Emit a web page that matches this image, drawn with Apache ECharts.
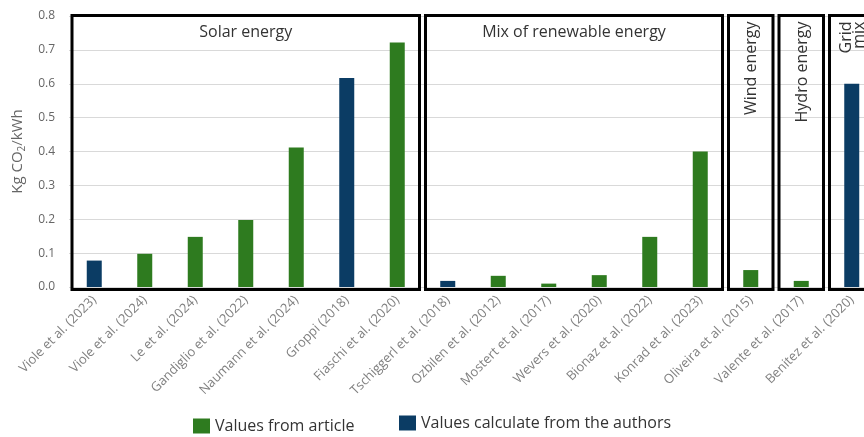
<!DOCTYPE html>
<html>
<head>
<meta charset="utf-8">
<script src="https://cdn.jsdelivr.net/npm/echarts@6/dist/echarts.min.js"></script>
<style>html,body{margin:0;padding:0;background:#fff}#c{width:864px;height:437px}</style>
</head>
<body>
<div id="c"></div>
<script>
var categories = ['Viole et al. (2023)','Viole et al. (2024)','Le et al. (2024)','Gandiglio et al. (2022)','Naumann et al. (2024)','Groppi (2018)','Fiaschi et al. (2020)','Tschiggerl et al. (2018)','Ozbilen et al. (2012)','Mostert et al. (2017)','Wevers et al. (2020)','Bionaz et al. (2022)','Konrad et al. (2023)','Oliveira et al. (2015)','Valente et al. (2017)','Benitez et al. (2020)'];
var articleValues = [null, 0.098, 0.148, 0.198, 0.412, null, 0.722, null, 0.033, 0.010, 0.035, 0.148, 0.400, 0.050, 0.018, null];
var authorValues  = [0.078, null, null, null, null, 0.617, null, 0.018, null, null, null, null, null, null, null, 0.600];
var yTicks = {min: 0, max: 0.8, interval: 0.1};
// groups: [startIndex, endIndex, label, vertical(1) or horizontal(0)]
var groupStart = [0, 7, 13, 14, 15];
var groupEnd   = [6, 12, 13, 14, 15];
var groupLabel = ['Solar energy', 'Mix of renewable energy', 'Wind energy', 'Hydro energy', 'Grid\nmix'];
var groupVertical = [0, 0, 1, 1, 1];
var seriesNames = ['Values from article', 'Values calculate from the authors'];

var FONT = '"Open Sans", Lato, sans-serif';
var groupData = groupStart.map(function (s, i) { return [s, groupEnd[i], i]; });

var chart = echarts.init(document.getElementById('c'), null, {renderer: 'canvas'});
chart.setOption({
  animation: false,
  grid: {left: 69, width: 808, top: 16, bottom: 150, containLabel: false, outerBoundsMode: 'none'},
  xAxis: {
    type: 'category',
    data: categories,
    axisLine: {show: false},
    axisTick: {show: false},
    axisLabel: {rotate: 45, interval: 0, color: '#808080', fontSize: 13, fontFamily: FONT, margin: 11}
  },
  yAxis: {
    type: 'value',
    min: yTicks.min, max: yTicks.max, interval: yTicks.interval,
    name: 'Kg CO{sub|2}/kWh',
    nameLocation: 'middle',
    nameGap: 40,
    nameTextStyle: {color: '#666', fontSize: 15, fontFamily: FONT,
      rich: {sub: {fontSize: 10, color: '#666', fontFamily: FONT, padding: [9, 0, 0, 0]}}},
    axisLabel: {color: '#666', fontSize: 12, fontFamily: FONT, margin: 14,
      formatter: function (v) { return v.toFixed(1); }},
    axisLine: {show: false},
    axisTick: {show: false},
    splitLine: {lineStyle: {color: '#d9d9d9', width: 1}}
  },
  legend: [
    {data: [seriesNames[0]], left: 188, top: 413, itemWidth: 17, itemHeight: 15,
     textStyle: {color: '#333', fontSize: 16, fontFamily: FONT}, icon: 'rect', selectedMode: false},
    {data: [seriesNames[1]], left: 394, top: 410, itemWidth: 17, itemHeight: 15,
     textStyle: {color: '#333', fontSize: 16, fontFamily: FONT}, icon: 'rect', selectedMode: false}
  ],
  series: [
    {name: seriesNames[0], type: 'bar', data: articleValues, barWidth: 15, barGap: '-100%',
     itemStyle: {color: '#2e7b1f'}},
    {name: seriesNames[1], type: 'bar', data: authorValues, barWidth: 15, barGap: '-100%',
     itemStyle: {color: '#0b3c64'}},
    {type: 'custom', data: groupData, z: 5, silent: true,
     encode: {x: [0, 1]},
     renderItem: function (params, api) {
       var s = api.value(0), e = api.value(1), gi = api.value(2);
       var bw = api.size([1, 0])[0];
       var pTop = api.coord([s, yTicks.max]);
       var pBot = api.coord([e, yTicks.min]);
       var x0 = pTop[0] - bw / 2 + 3;
       var x1 = pBot[0] + bw / 2 - 3;
       var y0 = pTop[1] - 0.5;
       var y1 = pBot[1] + 2.5;
       var cx = (x0 + x1) / 2;
       var children = [{
         type: 'rect',
         shape: {x: x0, y: y0, width: x1 - x0, height: y1 - y0},
         style: {fill: 'transparent', stroke: '#000', lineWidth: 3}
       }];
       if (groupVertical[gi]) {
         children.push({
           type: 'text', x: cx + 1, y: y0 + 6, rotation: Math.PI / 2,
           style: {text: groupLabel[gi], fill: '#333', fontSize: 16, fontFamily: FONT,
             align: 'right', verticalAlign: 'middle', lineHeight: 13}
         });
       } else {
         children.push({
           type: 'text', x: cx, y: y0 + 17,
           style: {text: groupLabel[gi], fill: '#333', fontSize: 16, fontFamily: FONT,
             align: 'center', verticalAlign: 'middle'}
         });
       }
       return {type: 'group', children: children};
     }}
  ]
});
</script>
</body>
</html>
